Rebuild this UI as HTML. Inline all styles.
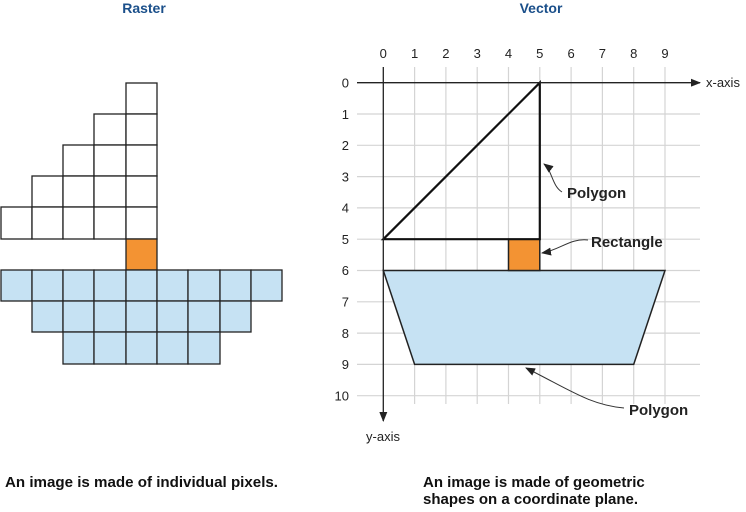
<!DOCTYPE html>
<html><head><style>body{margin:0;background:#fff}svg{display:block}</style></head><body>
<svg width="746" height="512" viewBox="0 0 746 512" xmlns="http://www.w3.org/2000/svg" font-family="Liberation Sans, sans-serif">
<defs><marker id="ah" markerWidth="10" markerHeight="8" refX="9" refY="4" orient="auto" markerUnits="userSpaceOnUse"><path d="M0,0 L10,4 L0,8 Z" fill="#222"/></marker></defs>
<text x="144" y="13" text-anchor="middle" font-weight="bold" font-size="14" fill="#1a4f8a">Raster</text>
<text x="541" y="13" text-anchor="middle" font-weight="bold" font-size="14" fill="#1a4f8a">Vector</text>
<g stroke="#222" stroke-width="1.3">
<g fill="#fff">
<rect x="126" y="83" width="31" height="31"/>
<rect x="94" y="114" width="32" height="31"/><rect x="126" y="114" width="31" height="31"/>
<rect x="63" y="145" width="31" height="31"/><rect x="94" y="145" width="32" height="31"/><rect x="126" y="145" width="31" height="31"/>
<rect x="32" y="176" width="31" height="31"/><rect x="63" y="176" width="31" height="31"/><rect x="94" y="176" width="32" height="31"/><rect x="126" y="176" width="31" height="31"/>
<rect x="1" y="207" width="31" height="32"/><rect x="32" y="207" width="31" height="32"/><rect x="63" y="207" width="31" height="32"/><rect x="94" y="207" width="32" height="32"/><rect x="126" y="207" width="31" height="32"/>
</g>
<rect x="126" y="239" width="31" height="31" fill="#f39333"/>
<g fill="#c6e2f3">
<rect x="1" y="270" width="31" height="31"/><rect x="32" y="270" width="31" height="31"/><rect x="63" y="270" width="31" height="31"/><rect x="94" y="270" width="32" height="31"/><rect x="126" y="270" width="31" height="31"/><rect x="157" y="270" width="31" height="31"/><rect x="188" y="270" width="32" height="31"/><rect x="220" y="270" width="31" height="31"/><rect x="251" y="270" width="31" height="31"/>
<rect x="32" y="301" width="31" height="31"/><rect x="63" y="301" width="31" height="31"/><rect x="94" y="301" width="32" height="31"/><rect x="126" y="301" width="31" height="31"/><rect x="157" y="301" width="31" height="31"/><rect x="188" y="301" width="32" height="31"/><rect x="220" y="301" width="31" height="31"/>
<rect x="63" y="332" width="31" height="32"/><rect x="94" y="332" width="32" height="32"/><rect x="126" y="332" width="31" height="32"/><rect x="157" y="332" width="31" height="32"/><rect x="188" y="332" width="32" height="32"/>
</g>
</g>
<g stroke="#d4d4d4" stroke-width="1.2">
<line x1="414.6" y1="67" x2="414.6" y2="404"/><line x1="445.9" y1="67" x2="445.9" y2="404"/><line x1="477.2" y1="67" x2="477.2" y2="404"/><line x1="508.5" y1="67" x2="508.5" y2="404"/><line x1="539.8" y1="67" x2="539.8" y2="404"/><line x1="571.1" y1="67" x2="571.1" y2="404"/><line x1="602.4" y1="67" x2="602.4" y2="404"/><line x1="633.7" y1="67" x2="633.7" y2="404"/><line x1="665" y1="67" x2="665" y2="404"/>
<line x1="357" y1="114" x2="700" y2="114"/><line x1="357" y1="145.3" x2="700" y2="145.3"/><line x1="357" y1="176.6" x2="700" y2="176.6"/><line x1="357" y1="207.9" x2="700" y2="207.9"/><line x1="357" y1="239.2" x2="700" y2="239.2"/><line x1="357" y1="270.5" x2="700" y2="270.5"/><line x1="357" y1="301.8" x2="700" y2="301.8"/><line x1="357" y1="333.1" x2="700" y2="333.1"/><line x1="357" y1="364.4" x2="700" y2="364.4"/><line x1="357" y1="395.7" x2="700" y2="395.7"/>
</g>
<g font-size="13" fill="#222" text-anchor="middle">
<text x="383.3" y="58">0</text><text x="414.6" y="58">1</text><text x="445.9" y="58">2</text><text x="477.2" y="58">3</text><text x="508.5" y="58">4</text><text x="539.8" y="58">5</text><text x="571.1" y="58">6</text><text x="602.4" y="58">7</text><text x="633.7" y="58">8</text><text x="665" y="58">9</text>
</g>
<g font-size="13" fill="#222" text-anchor="end">
<text x="349" y="87.5">0</text><text x="349" y="119">1</text><text x="349" y="150">2</text><text x="349" y="181.5">3</text><text x="349" y="212.5">4</text><text x="349" y="244">5</text><text x="349" y="275">6</text><text x="349" y="306.5">7</text><text x="349" y="338">8</text><text x="349" y="369">9</text><text x="349" y="400.5">10</text>
</g>
<polygon points="383.3,270.5 665,270.5 633.7,364.4 414.6,364.4" fill="#c6e2f3" stroke="#222" stroke-width="1.5"/>
<rect x="508.5" y="239.2" width="31.3" height="31.3" fill="#f39333" stroke="#222" stroke-width="1.5"/>
<polygon points="383.3,239.2 539.8,82.7 539.8,239.2" fill="none" stroke="#111" stroke-width="2.2"/>
<line x1="357" y1="82.7" x2="700" y2="82.7" stroke="#222" stroke-width="1.3" marker-end="url(#ah)"/>
<line x1="383.3" y1="67" x2="383.3" y2="421" stroke="#222" stroke-width="1.3" marker-end="url(#ah)"/>
<text x="706" y="87" font-size="13" fill="#222">x-axis</text>
<text x="383" y="441" font-size="13" fill="#222" text-anchor="middle">y-axis</text>
<g fill="none" stroke="#333" stroke-width="1">
<path d="M562,192 C552,186 552,170 544,164" marker-end="url(#ah)"/>
<path d="M588,240 C570,238 560,250 542,253" marker-end="url(#ah)"/>
<path d="M624,408 C590,405 570,390 526,368" marker-end="url(#ah)"/>
</g>
<g font-weight="bold" font-size="15" fill="#222">
<text x="567" y="198">Polygon</text>
<text x="591" y="247">Rectangle</text>
<text x="629" y="415">Polygon</text>
</g>
<g font-weight="bold" font-size="15" fill="#111">
<text x="5" y="487" textLength="273" lengthAdjust="spacingAndGlyphs">An image is made of individual pixels.</text>
<text x="423" y="487">An image is made of geometric</text>
<text x="423" y="504">shapes on a coordinate plane.</text>
</g>
</svg>
</body></html>
